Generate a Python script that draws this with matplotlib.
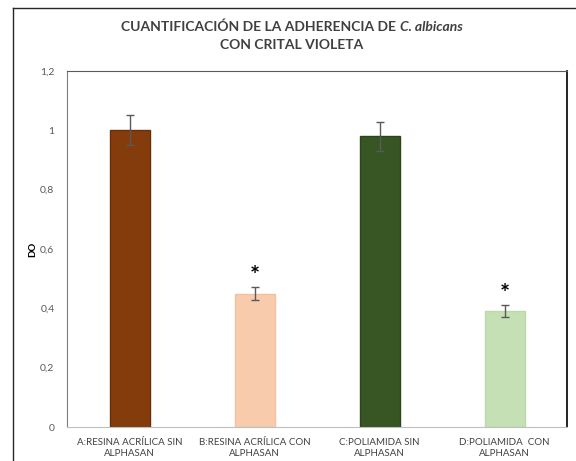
import matplotlib
matplotlib.use('Agg')
from matplotlib import pyplot as plt
from matplotlib.lines import Line2D

# data
categories = ['A:RESINA ACRÍLICA SIN\nALPHASAN', 'B:RESINA ACRÍLICA CON\nALPHASAN',
              'C:POLIAMIDA SIN\nALPHASAN', 'D:POLIAMIDA  CON\nALPHASAN']
values = [1.0, 0.45, 0.98, 0.39]
errors = [0.05, 0.022, 0.048, 0.02]
significant = [False, True, False, True]
y_ticks = [0, 0.2, 0.4, 0.6, 0.8, 1.0, 1.2]
y_ticklabels = ['0', '0,2', '0,4', '0,6', '0,8', '1', '1,2']

colors = ['#843C0C', '#F8CBAD', '#375623', '#C5E0B4']
edges = ['#6B2F08', '#F4C0A0', '#2B4419', '#BCD9A8']

plt.rcParams['font.family'] = ['Lato', 'DejaVu Sans']

fig = plt.figure(dpi=100, figsize=(5.76, 4.61))
ax = fig.add_axes([67/576, 34/461, 500/576, 356/461])

x = range(len(categories))
ax.bar(x, values, width=0.32, color=colors, edgecolor=edges, linewidth=1)
ax.errorbar(x, values, yerr=errors, fmt='none', ecolor='#595959',
            elinewidth=1, capsize=3, capthick=1)

for i, v in enumerate(values):
    if significant[i]:
        ax.text(i, v + errors[i] + 0.036, '*', ha='center', va='center',
                fontsize=17, fontweight='bold', color='black')

ax.set_xlim(-0.5, 3.5)
ax.set_ylim(0, 1.2)
ax.set_yticks(y_ticks)
ax.set_yticklabels(y_ticklabels)
ax.set_xticks(list(x))
ax.set_xticklabels(categories, fontsize=7, color='#404040', linespacing=1.3)
ax.tick_params(axis='y', length=0, pad=9, labelsize=7.5, labelcolor='#595959')
ax.tick_params(axis='x', length=0, pad=8)

ax.spines['left'].set_color('#7f7f7f')
ax.spines['top'].set_color('#595959')
ax.spines['bottom'].set_color('#bfbfbf')
ax.spines['right'].set_color('black')
ax.spines['right'].set_linewidth(1.2)

ax.set_ylabel('DO', fontsize=7, fontweight='bold', labelpad=2)

# outer chart-area border (left and top edges)
fig.add_artist(Line2D([13/576, 13/576], [0, 1 - 8/461], transform=fig.transFigure,
                      color='#262626', linewidth=1))
fig.add_artist(Line2D([13/576, 1], [1 - 8/461, 1 - 8/461], transform=fig.transFigure,
                      color='#262626', linewidth=1))

# title: first line has an italic part, so build it from two pieces
title_kw = dict(fontsize=10, fontweight='bold', color='#404040', va='center')
t1 = fig.text(0, 1 - 27/461, 'CUANTIFICACIÓN DE LA ADHERENCIA DE ', ha='left', **title_kw)
t2 = fig.text(0, 1 - 27/461, 'C. albicans', ha='left', fontstyle='italic', **title_kw)
fig.canvas.draw()
r = fig.canvas.get_renderer()
w1 = t1.get_window_extent(r).width
w2 = t2.get_window_extent(r).width
x0 = 292 - (w1 + w2) / 2
t1.set_x(x0 / 576)
t2.set_x((x0 + w1) / 576)
fig.text(292/576, 1 - 45/461, 'CON CRITAL VIOLETA', ha='center', **title_kw)

plt.savefig('out.png', dpi=100)
